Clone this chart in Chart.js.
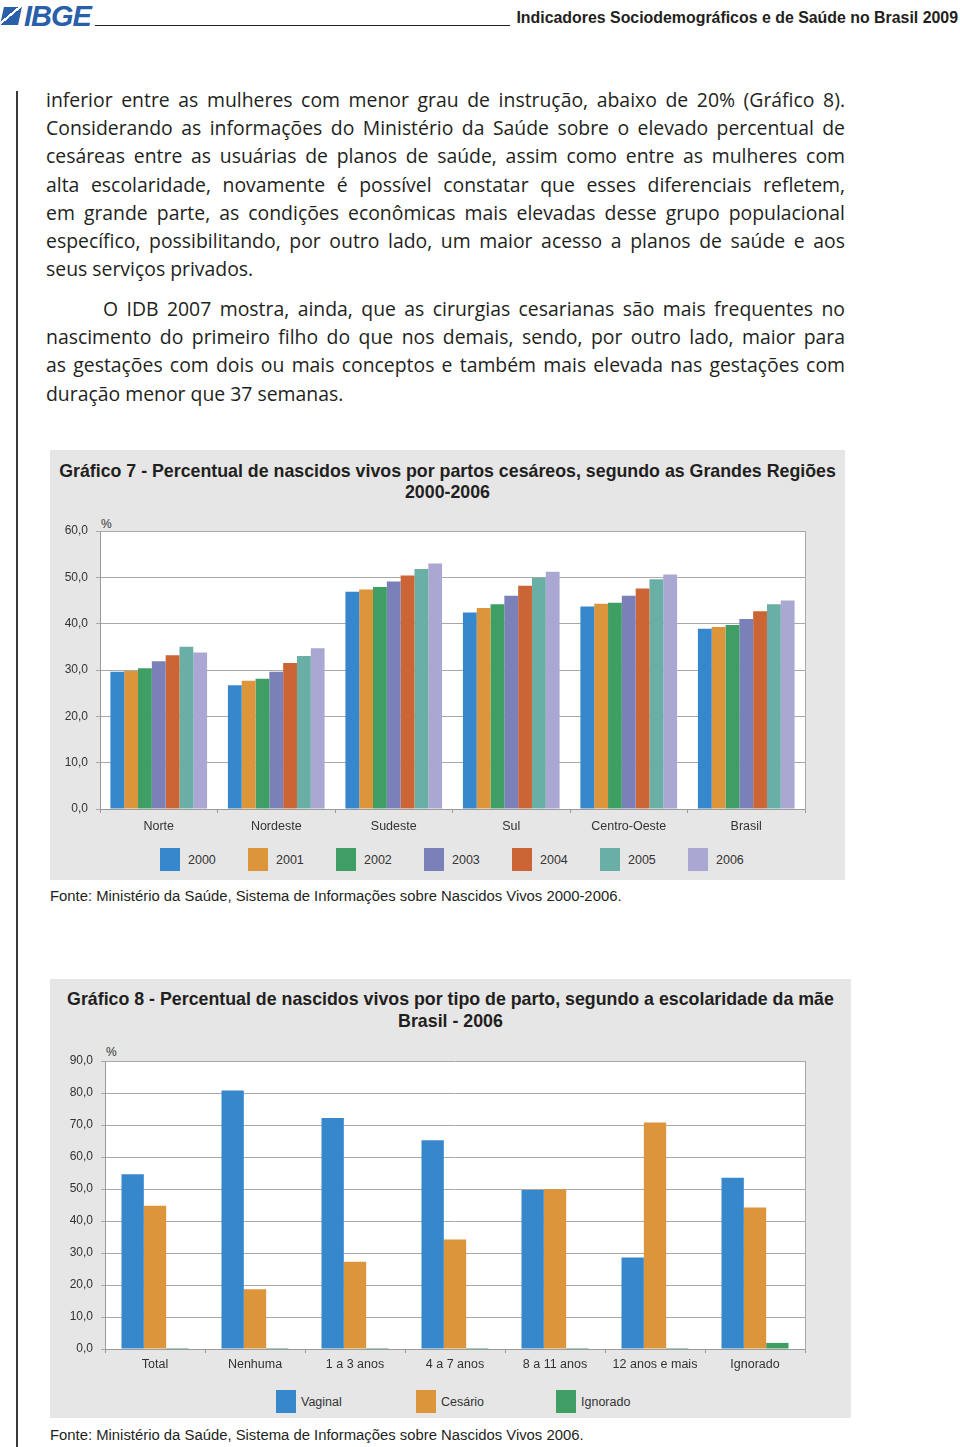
<!DOCTYPE html>
<html lang="pt-BR">
<head>
<meta charset="utf-8">
<title>Indicadores Sociodemográficos e de Saúde no Brasil 2009</title>
<script src="https://cdn.jsdelivr.net/npm/chart.js@4.4.1/dist/chart.umd.min.js"></script>
<style>
  html, body { margin: 0; padding: 0; background: #fff; }
  body { width: 960px; height: 1447px; position: relative; overflow: hidden; color: #231f20; }
  .abs { position: absolute; }
  #logo { left: 2px; top: 2px; height: 28px; font-family: "Liberation Sans", Arial, sans-serif; font-weight: bold; font-style: italic; font-size: 29px; color: #2a5fa9; letter-spacing: -1px; line-height: 28px; }
  #logo .ico { display: inline-block; width: 18px; height: 18px; margin-right: 4px; vertical-align: 1px; background: linear-gradient(135deg, #2a5fa9 0 40%, #fff 40% 50%, #2a5fa9 50% 100%); transform: skewX(-12deg); }
  #rule { left: 95px; top: 25px; width: 415px; height: 1px; background: #231f20; }
  #hdr { right: 2px; top: 9px; font-family: "Liberation Sans", Arial, sans-serif; font-weight: bold; font-size: 15.9px; color: #231f20; }
  #vline { left: 16px; top: 91px; width: 2px; height: 1360px; background: #3a3a3a; }
  #texto { left: 46px; top: 86px; width: 799px; font-family: "Open Sans", "Noto Sans", sans-serif; font-size: 19.4px; line-height: 28.2px; color: #231f20; }
  #texto .j { text-align: justify; text-align-last: justify; white-space: nowrap; }
  #texto .p2 { margin-top: 11.6px; }
  #texto .ind { text-indent: 57px; }
  .painel { background: #e6e6e7; }
  .titulo { font-family: "Liberation Sans", Arial, sans-serif; font-weight: bold; font-size: 17.8px; text-align: center; color: #231f20; }
  .pct { font-family: "Liberation Sans", Arial, sans-serif; font-size: 12px; color: #333; }
  .fonte { font-family: "Liberation Sans", Arial, sans-serif; font-size: 14.85px; color: #231f20; }
  .legenda { font-family: "Liberation Sans", Arial, sans-serif; font-size: 12.5px; color: #333; display: flex; }
  .legenda .item { display: flex; align-items: center; }
  .legenda .cx { width: 20px; height: 23px; }
  canvas { display: block; }
</style>
</head>
<body>

<div id="logo" class="abs"><span class="ico"></span>IBGE</div>
<div id="rule" class="abs"></div>
<div id="hdr" class="abs">Indicadores Sociodemográficos e de Saúde no Brasil 2009</div>
<div id="vline" class="abs"></div>

<div id="texto" class="abs">
  <div class="j">inferior entre as mulheres com menor grau de instrução, abaixo de 20% (Gráfico 8).</div>
  <div class="j">Considerando as informações do Ministério da Saúde sobre o elevado percentual de</div>
  <div class="j">cesáreas entre as usuárias de planos de saúde, assim como entre as mulheres com</div>
  <div class="j">alta escolaridade, novamente é possível constatar que esses diferenciais refletem,</div>
  <div class="j">em grande parte, as condições econômicas mais elevadas desse grupo populacional</div>
  <div class="j">específico, possibilitando, por outro lado, um maior acesso a planos de saúde e aos</div>
  <div>seus serviços privados.</div>
  <div class="j p2 ind">O IDB 2007 mostra, ainda, que as cirurgias cesarianas são mais frequentes no</div>
  <div class="j">nascimento do primeiro filho do que nos demais, sendo, por outro lado, maior para</div>
  <div class="j">as gestações com dois ou mais conceptos e também mais elevada nas gestações com</div>
  <div>duração menor que 37 semanas.</div>
</div>

<!-- Gráfico 7 -->
<div class="abs painel" style="left:50px; top:450px; width:795px; height:430px;"></div>
<div class="abs titulo" style="left:50px; top:461px; width:795px; line-height:21px;">Gráfico 7 - Percentual de nascidos vivos por partos cesáreos, segundo as Grandes Regiões<br>2000-2006</div>
<div class="abs pct" style="left:101px; top:517px;">%</div>
<div class="abs" style="left:50px; top:505px; width:795px; height:329px;"><canvas id="graf7"></canvas></div>
<div class="abs legenda" id="leg7" style="left:160px; top:848px;"></div>
<div class="abs fonte" style="left:50px; top:888px;">Fonte: Ministério da Saúde, Sistema de Informações sobre Nascidos Vivos 2000-2006.</div>

<!-- Gráfico 8 -->
<div class="abs painel" style="left:50px; top:979px; width:801px; height:439px;"></div>
<div class="abs titulo" style="left:50px; top:988px; width:801px; line-height:22px;">Gráfico 8 - Percentual de nascidos vivos por tipo de parto, segundo a escolaridade da mãe<br>Brasil - 2006</div>
<div class="abs pct" style="left:106px; top:1045px;">%</div>
<div class="abs" style="left:52px; top:1040px; width:799px; height:334px;"><canvas id="graf8"></canvas></div>
<div class="abs legenda" id="leg8" style="left:276px; top:1390px;"></div>
<div class="abs fonte" style="left:50px; top:1427px;">Fonte: Ministério da Saúde, Sistema de Informações sobre Nascidos Vivos 2006.</div>

<script>
// ---- dados do Gráfico 7 ----
const regioes = ['Norte', 'Nordeste', 'Sudeste', 'Sul', 'Centro-Oeste', 'Brasil'];
const anos = ['2000', '2001', '2002', '2003', '2004', '2005', '2006'];
const ces2000 = [29.6, 26.7, 46.9, 42.4, 43.7, 38.9];
const ces2001 = [29.8, 27.7, 47.4, 43.4, 44.3, 39.3];
const ces2002 = [30.4, 28.1, 47.9, 44.2, 44.5, 39.7];
const ces2003 = [31.9, 29.6, 49.1, 46.0, 46.0, 41.0];
const ces2004 = [33.2, 31.5, 50.4, 48.2, 47.6, 42.7];
const ces2005 = [35.0, 33.0, 51.8, 49.9, 49.6, 44.2];
const ces2006 = [33.8, 34.7, 53.0, 51.2, 50.6, 45.0];
const ticks7 = [0, 10, 20, 30, 40, 50, 60];

// ---- dados do Gráfico 8 ----
const escolaridade = ['Total', 'Nenhuma', '1 a 3 anos', '4 a 7 anos', '8 a 11 anos', '12 anos e mais', 'Ignorado'];
const tipos = ['Vaginal', 'Cesário', 'Ignorado'];
const vaginal = [54.6, 80.8, 72.2, 65.2, 49.7, 28.6, 53.5];
const cesario = [44.8, 18.7, 27.3, 34.2, 49.9, 70.8, 44.2];
const ignorado = [0.3, 0.3, 0.3, 0.3, 0.3, 0.3, 1.9];
const ticks8 = [0, 10, 20, 30, 40, 50, 60, 70, 80, 90];

const cores7 = ['#3787cd', '#dc953a', '#3e9e64', '#7b80b9', '#cc6535', '#69afa6', '#aaa7d2'];
const cores8 = ['#3787cd', '#dc953a', '#3e9e64'];

const fonteGraf = '"Liberation Sans", Arial, sans-serif';

function virgula(v) {
    return v.toFixed(1).replace('.', ',');
}

// fundo branco da área de plotagem
const fundoPlot = {
    id: 'fundoPlot',
    beforeDraw(chart) {
        const a = chart.chartArea;
        const ctx = chart.ctx;
        ctx.save();
        ctx.fillStyle = '#ffffff';
        ctx.fillRect(a.left, a.top, a.right - a.left, a.bottom - a.top);
        ctx.restore();
    }
};

function montaGrafico(id, categorias, series, nomes, cores, marcas, larguraY, larguraDir, topo, catPct, xPad) {
    const datasets = series.map((s, i) => ({
        label: nomes[i],
        data: s,
        backgroundColor: cores[i],
        borderWidth: 0,
        barPercentage: 1.0,
        categoryPercentage: catPct
    }));
    const max = marcas[marcas.length - 1];
    return new Chart(document.getElementById(id), {
        type: 'bar',
        data: { labels: categorias, datasets: datasets },
        options: {
            responsive: true,
            maintainAspectRatio: false,
            animation: false,
            layout: { padding: { top: topo, right: 0, bottom: 0, left: 0 } },
            plugins: {
                legend: { display: false },
                tooltip: { enabled: false }
            },
            scales: {
                x: {
                    grid: { drawOnChartArea: false, offset: true, tickLength: 4, color: '#9a9a9a' },
                    border: { color: '#9a9a9a' },
                    ticks: { color: '#333', padding: xPad, font: { family: fonteGraf, size: 12.5 } },
                    afterFit(scale) { scale.height = 25; }
                },
                y: {
                    min: 0, max: max,
                    afterBuildTicks(scale) { scale.ticks = marcas.map(v => ({ value: v })); },
                    grid: { color: '#a8a8a8', tickLength: 4 },
                    border: { color: '#9a9a9a' },
                    ticks: { color: '#333', padding: 8, font: { family: fonteGraf, size: 12 }, callback: v => virgula(v) },
                    afterFit(scale) { scale.width = larguraY; }
                },
                yDir: {
                    position: 'right',
                    min: 0, max: max,
                    grid: { drawOnChartArea: false, drawTicks: false },
                    border: { color: '#a8a8a8' },
                    ticks: { display: false },
                    afterFit(scale) { scale.width = larguraDir; }
                }
            }
        },
        plugins: [fundoPlot]
    });
}

function montaLegenda(divId, nomes, cores, passo, gap) {
    const div = document.getElementById(divId);
    nomes.forEach((n, i) => {
        const it = document.createElement('div');
        it.className = 'item';
        it.style.width = passo + 'px';
        it.innerHTML = '<span class="cx" style="background:' + cores[i] + '"></span><span style="margin-left:' + gap + 'px">' + n + '</span>';
        div.appendChild(it);
    });
}

montaGrafico('graf7', regioes,
    [ces2000, ces2001, ces2002, ces2003, ces2004, ces2005, ces2006],
    anos, cores7, ticks7, 50, 40, 26, 0.823, 6);
montaLegenda('leg7', anos, cores7, 88, 8);

montaGrafico('graf8', escolaridade,
    [vaginal, cesario, ignorado],
    tipos, cores8, ticks8, 53, 46, 21, 0.67, 4);
montaLegenda('leg8', tipos, cores8, 140, 5);
</script>
</body>
</html>
